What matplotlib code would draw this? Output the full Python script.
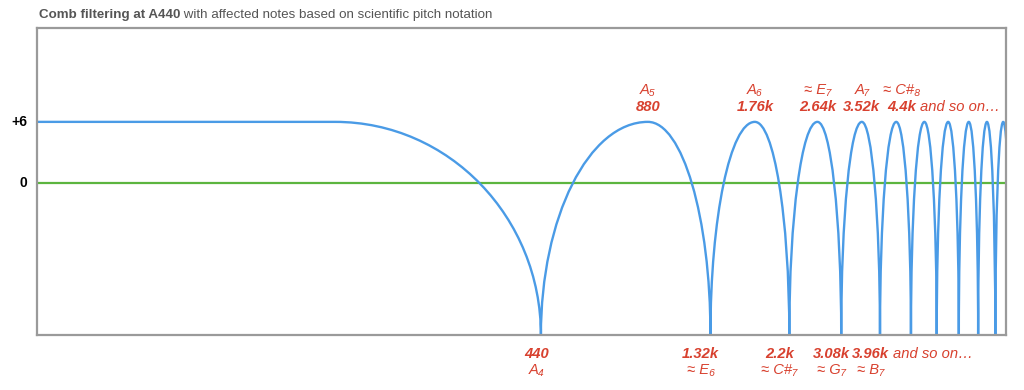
import matplotlib
matplotlib.use('Agg')
import numpy as np
import matplotlib.pyplot as plt
from matplotlib.path import Path
from matplotlib.patches import PathPatch

# frequencies in Hz, levels in dB
flat_end = 116
notches = [440, 1320, 2200, 3080, 3960, 4840, 5720, 6600, 7480, 8360, 9240]
peaks = [880, 1760, 2640, 3520, 4400, 5280, 6160, 7040, 7920, 8800]
peak_db = 6
floor_db = -15
x_range = [16.8, 8960]
y_range = [-15, 15.25]

top_notes = ['A₅', 'A₆', '≈ E₇', 'A₇', '≈ C#₈']
top_values = ['880', '1.76k', '2.64k', '3.52k', '4.4k']
bottom_values = ['440', '1.32k', '2.2k', '3.08k', '3.96k']
bottom_notes = ['A₄', '≈ E₆', '≈ C#₇', '≈ G₇', '≈ B₇']

red = '#d8412f'
blue = '#4a9be6'
green = '#5cb53f'
fonts = ['Liberation Sans', 'DejaVu Sans']
plt.rcParams['font.family'] = fonts
fs = 10.6

fig = plt.figure(figsize=(10.24, 3.9), dpi=100)
ax = fig.add_axes([37 / 1024, 55 / 390, 969 / 1024, 307 / 390])
ax.set_xscale('log')
ax.set_xlim(x_range)
ax.set_ylim(y_range)
ax.set_xticks([])
ax.set_yticks([])
ax.minorticks_off()
for sp in ax.spines.values():
    sp.set_color('#9a9a9a')
    sp.set_linewidth(1.6)

ax.axhline(0, color=green, lw=1.6, zorder=1)

# comb curve drawn as elliptical arches (bezier, log-x space)
k = 0.5523
span = peak_db - floor_db


def lx(a, b, t):
    return 10 ** (np.log10(a) + t * (np.log10(b) - np.log10(a)))


verts = [(x_range[0], peak_db), (flat_end, peak_db),
         (lx(flat_end, notches[0], k), peak_db),
         (notches[0], floor_db + k * span), (notches[0], floor_db)]
codes = [Path.MOVETO, Path.LINETO, Path.CURVE4, Path.CURVE4, Path.CURVE4]
for i, p in enumerate(peaks):
    n0, n1 = notches[i], notches[i + 1]
    verts += [(n0, floor_db + k * span), (lx(p, n0, k), peak_db), (p, peak_db),
              (lx(p, n1, k), peak_db), (n1, floor_db + k * span), (n1, floor_db)]
    codes += [Path.CURVE4] * 6
ax.add_patch(PathPatch(Path(verts, codes), fill=False, edgecolor=blue,
                       lw=1.7, zorder=2, capstyle='round', joinstyle='round'))

# level labels
for lvl, s in [(peak_db, '+6'), (0, '0')]:
    ax.annotate(s, xy=(0, lvl), xycoords=('axes fraction', 'data'),
                xytext=(-7, 0), textcoords='offset points', ha='right',
                va='center', fontsize=10, fontweight='bold', color='black',
                annotation_clip=False)

# peak labels
for i, f in enumerate(peaks[:len(top_values)]):
    dx = 4 if i == len(top_values) - 1 else 0
    ax.annotate(top_notes[i], xy=(f, 0.798), xycoords=('data', 'axes fraction'),
                xytext=(dx, 0), textcoords='offset points',
                ha='center', va='center', fontsize=fs, style='italic',
                color=red, annotation_clip=False)
    t = ax.annotate(top_values[i], xy=(f, 0.743), xycoords=('data', 'axes fraction'),
                    xytext=(dx, 0), textcoords='offset points',
                    ha='center', va='center', fontsize=fs, style='italic',
                    fontweight='bold', color=red, annotation_clip=False)
ax.annotate('and so on…', xy=(1, 0.5), xycoords=t, xytext=(3, 0),
            textcoords='offset points', ha='left', va='center', fontsize=fs,
            style='italic', color=red, annotation_clip=False)

# notch labels
for i, f in enumerate(notches[:len(bottom_values)]):
    dx = -3 if i == 0 else -7
    t = ax.annotate(bottom_values[i], xy=(f, -0.062), xycoords=('data', 'axes fraction'),
                    xytext=(dx, 0), textcoords='offset points',
                    ha='center', va='center', fontsize=fs, style='italic',
                    fontweight='bold', color=red, annotation_clip=False)
    ax.annotate(bottom_notes[i], xy=(f, -0.114), xycoords=('data', 'axes fraction'),
                xytext=(dx, 0), textcoords='offset points',
                ha='center', va='center', fontsize=fs, style='italic',
                color=red, annotation_clip=False)
ax.annotate('and so on…', xy=(1, 0.5), xycoords=t, xytext=(3, 0),
            textcoords='offset points', ha='left', va='center', fontsize=fs,
            style='italic', color=red, annotation_clip=False)

# title
tt = fig.text(39 / 1024, 1 - 15 / 390, 'Comb filtering at A440', ha='left',
              va='center', fontsize=9.6, fontweight='bold', color='#555555')
fig.canvas.draw()
plt.annotate(' with affected notes based on scientific pitch notation',
             xy=(1, 0.5), xycoords=tt, ha='left', va='center', fontsize=9.6,
             color='#555555', annotation_clip=False)

fig.savefig('out.png', dpi=100)
